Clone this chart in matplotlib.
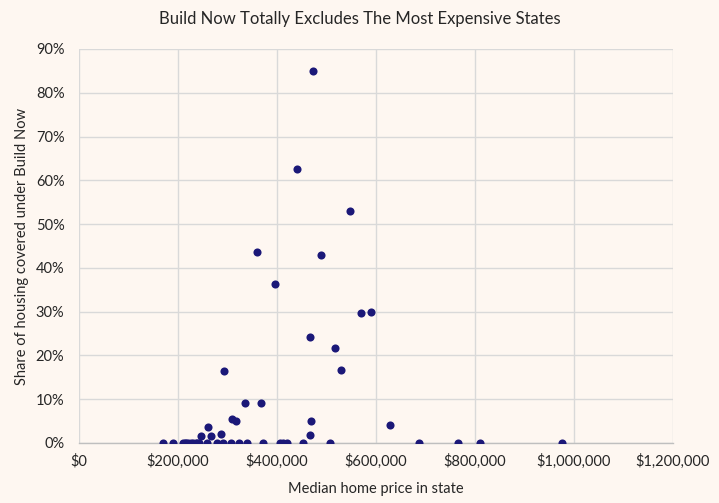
import matplotlib
matplotlib.use("Agg")
import matplotlib.pyplot as plt
from matplotlib.ticker import FuncFormatter, MultipleLocator

plt.rcParams['font.family'] = ['Lato', 'DejaVu Sans']

# Median home price in state (USD) and share of housing covered under Build Now
prices = [
    170000, 190500, 211000, 214000, 217000, 221000, 226000, 231000, 236000, 239000, 242000,
    258000, 279000, 291500, 307700, 324000, 340000, 372000, 406000, 413000, 421000,
    453000, 508000, 687500, 766000, 811000, 976000,
    247000, 261000, 266000, 287500, 310000, 318000, 336000, 368000, 469000, 467000,
    629000, 489500, 570000, 590500, 467000, 518000, 530000, 473000, 441000, 360000,
    396000, 293500, 548000,
]
shares = [
    0.0, 0.0, 0.0, 0.0, 0.0, 0.0, 0.0, 0.0, 0.0, 0.0, 0.0,
    0.0, 0.0, 0.0, 0.0, 0.0, 0.0, 0.0, 0.0, 0.0, 0.0,
    0.0, 0.0, 0.0, 0.0, 0.0, 0.0,
    0.017, 0.036, 0.017, 0.021, 0.055, 0.050, 0.091, 0.091, 0.050, 0.018,
    0.041, 0.429, 0.297, 0.299, 0.242, 0.217, 0.167, 0.849, 0.626, 0.436,
    0.363, 0.164, 0.531,
]

title = "Build Now Totally Excludes The Most Expensive States"
xlabel = "Median home price in state"
ylabel = "Share of housing covered under Build Now"

bg = "#FEF7F1"
text_color = "#262626"
dot_color = "#1B1878"

fig = plt.figure(figsize=(7.19, 5.03), dpi=100, facecolor=bg)
ax = fig.add_axes([79/719, 1 - 443/503, (673-79)/719, (443-49)/503])
ax.set_facecolor(bg)

ax.scatter(prices, shares, s=34, color=dot_color, zorder=3, linewidths=0)

ax.set_xlim(0, 1200000)
ax.set_ylim(0, 0.9)
ax.xaxis.set_major_locator(MultipleLocator(200000))
ax.yaxis.set_major_locator(MultipleLocator(0.1))
ax.xaxis.set_major_formatter(FuncFormatter(lambda v, p: f"${v:,.0f}"))
ax.yaxis.set_major_formatter(FuncFormatter(lambda v, p: f"{v*100:.0f}%"))

ax.grid(True, color="#D9D9D9", linewidth=1.0, zorder=0)
ax.set_axisbelow(True)
for side in ["top", "right", "left"]:
    ax.spines[side].set_visible(False)
ax.spines["bottom"].set_color("#BFBFBF")
ax.spines["bottom"].set_linewidth(1.0)
ax.spines["bottom"].set_zorder(2)

ax.tick_params(axis="both", length=0, labelsize=10.5, labelcolor=text_color)
ax.tick_params(axis="y", pad=10.5)
ax.tick_params(axis="x", pad=8)

ax.set_xlabel(xlabel, fontsize=10.5, color=text_color, labelpad=9)
ax.set_ylabel(ylabel, fontsize=10.5, color=text_color, labelpad=4.5)

fig.text(0.5, 1 - 19/503, title, ha="center", va="center", fontsize=12, color=text_color)

fig.savefig("out.png", dpi=100, facecolor=bg)
